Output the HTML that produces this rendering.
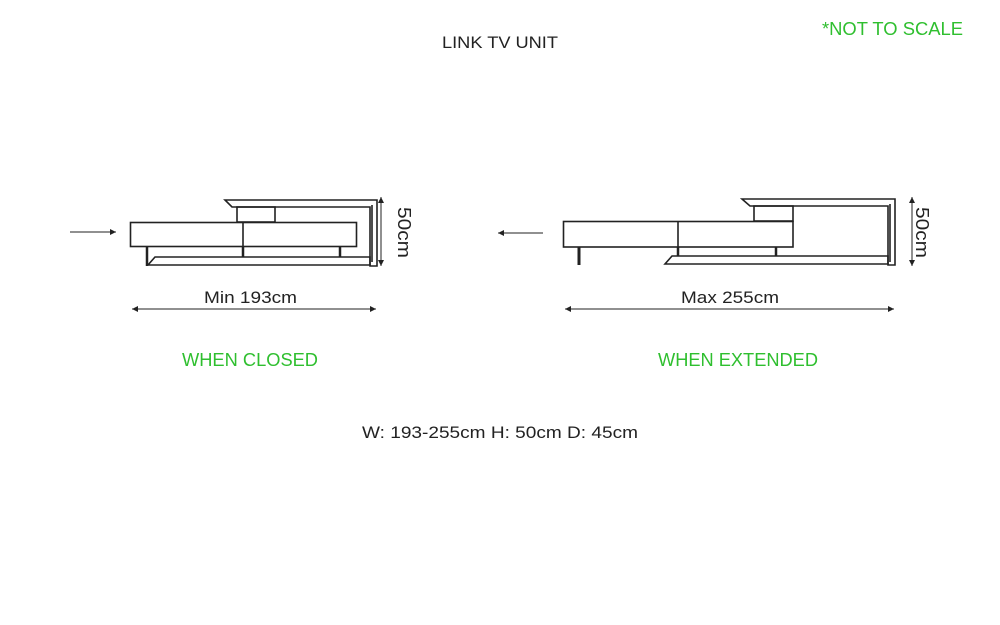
<!DOCTYPE html>
<html><head><meta charset="utf-8"><style>
html,body{margin:0;padding:0;background:#fff;}
svg{display:block;}
text{font-family:"Liberation Sans",sans-serif;}
</style></head><body>
<svg width="1000" height="625" viewBox="0 0 1000 625" xmlns="http://www.w3.org/2000/svg">
<defs>
<marker id="ah" markerWidth="8" markerHeight="8" refX="6" refY="3" orient="auto-start-reverse" markerUnits="userSpaceOnUse"><path d="M0,0 L6,3 L0,6 Z" fill="#222"/></marker>
</defs>
<text x="442" y="48" font-size="17" textLength="116" lengthAdjust="spacingAndGlyphs" fill="#222">LINK TV UNIT</text>
<text x="822" y="35" font-size="18" textLength="141" lengthAdjust="spacingAndGlyphs" fill="#2fbf2f">*NOT TO SCALE</text>

<g fill="none" stroke="#222" stroke-width="1.6">
<!-- closed -->
<path d="M225,200 L377,200 L377,266 L370,266 L370,207 L232,207 Z"/>
<path d="M372,205 L372,262"/>
<rect x="237" y="207" width="38" height="15"/>
<rect x="130.5" y="222.5" width="226" height="24"/>
<line x1="243" y1="222" x2="243" y2="246"/>
<path d="M155,257 L370,257 L370,265 L148,265 Z"/>
<line x1="147" y1="246" x2="147" y2="266" stroke-width="2.5"/>
<line x1="243" y1="246" x2="243" y2="257" stroke-width="2.5"/>
<line x1="340" y1="246" x2="340" y2="257" stroke-width="2.5"/>

<!-- extended -->
<path d="M742,199 L895,199 L895,265 L888,265 L888,206 L750,206 Z"/>
<path d="M890,204 L890,262"/>
<rect x="754" y="206" width="39" height="15"/>
<rect x="563.5" y="221.5" width="229.5" height="25.5"/>
<line x1="678" y1="221" x2="678" y2="247"/>
<path d="M672,256 L888,256 L888,264 L665,264 Z"/>
<line x1="579" y1="247" x2="579" y2="265" stroke-width="3"/>
<line x1="678" y1="247" x2="678" y2="256" stroke-width="2.5"/>
<line x1="776" y1="247" x2="776" y2="256" stroke-width="2.5"/>
</g>

<g stroke="#222" stroke-width="1" fill="none">
<line x1="70" y1="232" x2="116" y2="232" marker-end="url(#ah)"/>
<line x1="543" y1="233" x2="498" y2="233" marker-end="url(#ah)"/>
<line x1="381" y1="197" x2="381" y2="266" marker-start="url(#ah)" marker-end="url(#ah)"/>
<line x1="912" y1="197" x2="912" y2="266" marker-start="url(#ah)" marker-end="url(#ah)"/>
<line x1="132" y1="309" x2="376" y2="309" marker-start="url(#ah)" marker-end="url(#ah)"/>
<line x1="565" y1="309" x2="894" y2="309" marker-start="url(#ah)" marker-end="url(#ah)"/>
</g>

<text transform="translate(398,207) rotate(90)" font-size="18" textLength="51" lengthAdjust="spacingAndGlyphs" fill="#222">50cm</text>
<text transform="translate(916,207) rotate(90)" font-size="18" textLength="51" lengthAdjust="spacingAndGlyphs" fill="#222">50cm</text>
<text x="204" y="303" font-size="17" textLength="93" lengthAdjust="spacingAndGlyphs" fill="#222">Min 193cm</text>
<text x="681" y="303" font-size="17" textLength="98" lengthAdjust="spacingAndGlyphs" fill="#222">Max 255cm</text>
<text x="182" y="366" font-size="18" textLength="136" lengthAdjust="spacingAndGlyphs" fill="#2fbf2f">WHEN CLOSED</text>
<text x="658" y="366" font-size="18" textLength="160" lengthAdjust="spacingAndGlyphs" fill="#2fbf2f">WHEN EXTENDED</text>
<text x="362" y="438" font-size="17" textLength="276" lengthAdjust="spacingAndGlyphs" fill="#222">W: 193-255cm H: 50cm D: 45cm</text>
</svg>
</body></html>
